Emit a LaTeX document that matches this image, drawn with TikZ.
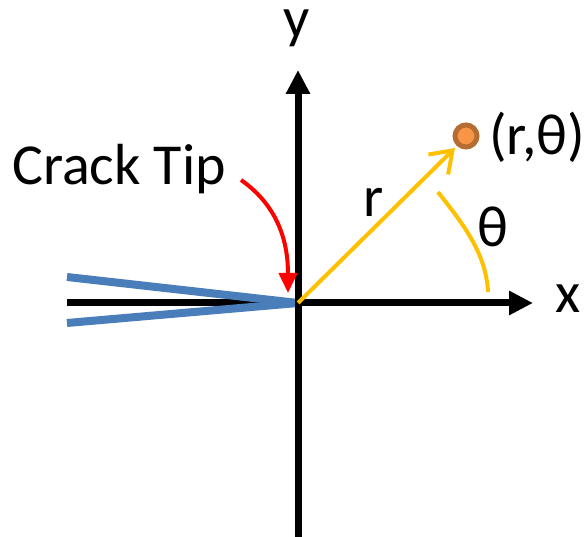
\documentclass[tikz,border=0pt]{standalone}
\usepackage{fontspec}
\setmainfont{Carlito}
\usetikzlibrary{arrows.meta}
\definecolor{crackblue}{HTML}{4A7EBB}
\definecolor{gold}{HTML}{FFC000}
\definecolor{dotfill}{HTML}{F79646}
\definecolor{dotring}{HTML}{B66D31}
\begin{document}
\begin{tikzpicture}[x=1pt,y=1pt,
  axis/.style={line width=7pt,-{Triangle[length=24pt,width=23pt]}},
  crack/.style={line width=8pt,crackblue},
  lbl/.style={font=\fontsize{58}{58}\selectfont,inner sep=0pt,anchor=base},
  goldline/.style={line width=4pt,gold}]
\useasboundingbox (0,0) rectangle (584,537);
\coordinate (O) at (298,234);
\coordinate (ybot) at (298,0);
\coordinate (ytop) at (298,467);
\coordinate (xleft) at (67,234);
\coordinate (xright) at (533,234);
\coordinate (cu) at (67,260);
\coordinate (cl) at (67,214);
% axes and crack
\draw[axis] (xleft) -- (xright);
\draw[crack] (cu) -- (O);
\draw[crack] (cl) -- (O);
\draw[axis] (ybot) -- (ytop);
\node[lbl] (ylab) at (297,499) {y};
\node[lbl] (xlab) at (568,224) {x};
% point
\node[circle,draw=dotring,fill=dotfill,line width=5pt,minimum size=22pt,inner sep=0pt] (P) at (466,401) {};
\coordinate (Ptip) at (455,389);
\draw[goldline,-{Straight Barb[length=20pt,width=28pt]}] (O) -- (Ptip);
\node[lbl,anchor=base west] (plab) at (489,382) {(r,θ)};
\node[lbl] (rlab) at (374,320) {r};
\node[lbl] (thlab) at (493,290) {θ};
% angle arc
\coordinate (a1) at (438,345);
\coordinate (a2) at (488,245);
\draw[goldline] (a1) .. controls (462,314) and (486,285) .. (a2);
% crack tip label and arrow
\node[lbl,anchor=base west] (ct) at (12,352) {Crack Tip};
\coordinate (rs) at (241,357);
\coordinate (re) at (288,244);
\draw[red,line width=4pt,-{Triangle[length=20pt,width=18pt]}] (rs) to[out=-35,in=90] (re);
\end{tikzpicture}
\end{document}
